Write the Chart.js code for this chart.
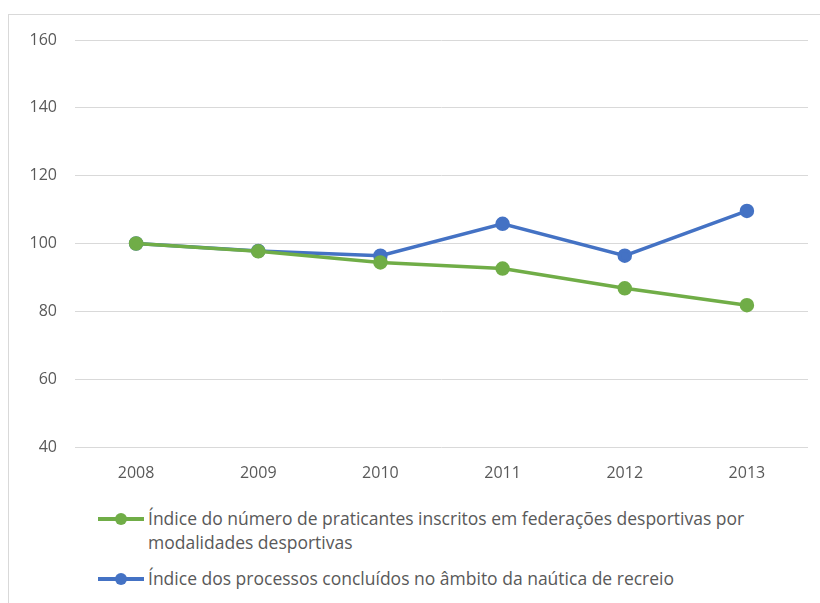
<!DOCTYPE html>
<html><head><meta charset="utf-8">
<script src="https://cdn.jsdelivr.net/npm/chart.js@4/dist/chart.umd.min.js"></script>
<style>
html,body{margin:0;padding:0;background:#fff;width:820px;height:603px;overflow:hidden;}
#frame{position:absolute;left:8px;top:14px;width:830px;height:620px;border:1.5px solid #d9d9d9;box-sizing:border-box;}
#wrap{position:absolute;left:0;top:0;width:820px;height:500px;}
#legend{position:absolute;left:98px;top:506px;width:680px;font-family:"Liberation Sans Narrow","Open Sans",sans-serif;font-size:17.5px;color:#595959;}
.item{display:flex;align-items:flex-start;margin-bottom:12px;}
.mk{position:relative;width:46px;height:24px;flex:none;margin-right:4px;}
.mk .ln{position:absolute;left:0;right:0;top:11px;height:4px;}
.mk .dt{position:absolute;left:17px;top:7px;width:12px;height:12px;border-radius:50%;}
.tx{line-height:24px;}
</style></head>
<body>
<div id="frame"></div>
<div id="wrap"><canvas id="c" width="820" height="500"></canvas></div>
<div id="legend"></div>
<script>
const years = ["2008","2009","2010","2011","2012","2013"];
const praticantes = [100, 97.7, 94.4, 92.6, 86.8, 81.8];
const nautica = [100, 97.8, 96.4, 105.8, 96.4, 109.6];
const seriesNames = [
  "Índice do número de praticantes inscritos em federações desportivas por modalidades desportivas",
  "Índice dos processos concluídos no âmbito da naútica de recreio"
];
const colors = ["#70ad47", "#4472c4"];
const font = {family: '"Liberation Sans Narrow","Open Sans",sans-serif', size: 16};

const chart = new Chart(document.getElementById('c'), {
  type: 'line',
  data: {
    labels: years,
    datasets: [
      {label: seriesNames[0], data: praticantes, borderColor: colors[0], backgroundColor: colors[0], borderWidth: 3.5, pointRadius: 5.5, pointHoverRadius: 5.5, tension: 0},
      {label: seriesNames[1], data: nautica, borderColor: colors[1], backgroundColor: colors[1], borderWidth: 3.5, pointRadius: 5.5, pointHoverRadius: 5.5, tension: 0}
    ]
  },
  options: {
    responsive: false,
    animation: false,
    layout: {padding: {left: 20, right: 12, top: 40, bottom: 0}},
    plugins: {legend: {display: false}, tooltip: {enabled: false}},
    scales: {
      x: {
        offset: true,
        grid: {display: false},
        border: {display: false},
        ticks: {color: '#595959', font: font, padding: 9},
        afterFit: s => { s.height = 53; }
      },
      y: {
        min: 40, max: 160,
        ticks: {stepSize: 20, color: '#595959', font: font, padding: 18},
        grid: {color: '#d9d9d9', lineWidth: 1, drawTicks: false},
        border: {display: false},
        afterFit: s => { s.width = 55; }
      }
    }
  }
});

const lg = document.getElementById('legend');
chart.data.datasets.forEach(ds => {
  const it = document.createElement('div'); it.className = 'item';
  it.innerHTML = '<div class="mk"><div class="ln" style="background:' + ds.borderColor + '"></div><div class="dt" style="background:' + ds.borderColor + '"></div></div><div class="tx"></div>';
  it.querySelector('.tx').textContent = ds.label;
  lg.appendChild(it);
});
</script>
</body></html>
